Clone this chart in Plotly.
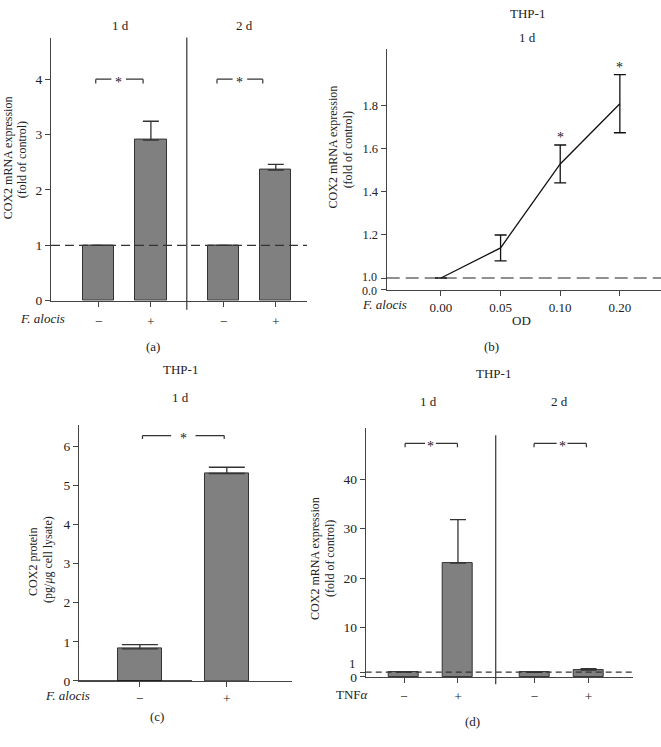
import plotly.graph_objects as go

W, H = 661, 747
FONT = "Liberation Serif"
TXT = "#222222"
AX = "#444444"
BAR = "#808080"
EDGE = "#333333"

# ---------------- data ----------------
# (a) COX2 mRNA, F. alocis, 1 d / 2 d
a_groups = ["1 d", "2 d"]
a_labels = ["−", "+", "−", "+"]
a_values = [1.0, 2.90, 1.0, 2.36]
a_err = [0.0, 0.34, 0.0, 0.10]

# (b) COX2 mRNA vs OD of F. alocis, 1 d
b_od = ["0.00", "0.05", "0.10", "0.20"]
b_values = [1.0, 1.14, 1.53, 1.81]
b_err = [0.0, 0.06, 0.088, 0.135]
b_sig = [False, False, True, True]

# (c) COX2 protein, 1 d
c_labels = ["−", "+"]
c_values = [0.82, 5.30]
c_err = [0.11, 0.16]

# (d) COX2 mRNA, TNFα, 1 d / 2 d
d_groups = ["1 d", "2 d"]
d_labels = ["−", "+", "−", "+"]
d_values = [1.0, 23.0, 0.95, 1.4]
d_err = [0.0, 8.8, 0.0, 0.3]

# ---------------- layout helpers ----------------
def px(x):
    return x / W

def py(y):
    return 1 - y / H

a_pos = [0, 1, 2.4, 3.4]
c_pos = [0, 1]
d_pos = [0, 1, 2.42, 3.42]
b_pos = [0, 1, 2, 3]

fig = go.Figure()

bar_style = dict(marker=dict(color=BAR, line=dict(color=EDGE, width=1)), showlegend=False)

fig.add_trace(go.Bar(x=a_pos, y=a_values, width=0.6, xaxis="x", yaxis="y",
                     error_y=dict(type="data", symmetric=False, array=a_err,
                                  arrayminus=[0] * 4, color=EDGE, thickness=1.3, width=8),
                     **bar_style))
fig.add_trace(go.Scatter(x=b_pos, y=b_values, mode="lines", xaxis="x2", yaxis="y2",
                         line=dict(color="#111111", width=1.3), showlegend=False,
                         error_y=dict(type="data", array=b_err, color="#111111",
                                      thickness=1.3, width=6)))
fig.add_trace(go.Bar(x=c_pos, y=c_values, width=0.5, xaxis="x3", yaxis="y3",
                     error_y=dict(type="data", symmetric=False, array=c_err,
                                  arrayminus=[0] * 2, color=EDGE, thickness=1.3, width=18),
                     **bar_style))
fig.add_trace(go.Bar(x=d_pos, y=d_values, width=0.55, xaxis="x4", yaxis="y4",
                     error_y=dict(type="data", symmetric=False, array=d_err,
                                  arrayminus=[0] * 4, color=EDGE, thickness=1.3, width=8),
                     **bar_style))

tickfont = dict(family=FONT, size=13.5, color=TXT)
common = dict(showgrid=False, zeroline=False, showline=True, linecolor=AX, linewidth=1.2,
              ticks="outside", ticklen=5, tickcolor=AX, tickwidth=1.2, tickfont=tickfont)
common_bx = dict(common, tickfont=dict(family=FONT, size=13, color=TXT))
common_by = dict(common, tickfont=dict(family=FONT, size=12.5, color=TXT))

fig.update_layout(
    width=W, height=H, margin=dict(l=0, r=0, t=0, b=0),
    paper_bgcolor="white", plot_bgcolor="white", bargap=0,
    xaxis=dict(domain=[px(51), px(307)], range=[-0.92, 4.0], anchor="y",
               tickvals=a_pos, ticktext=a_labels, ticklabelstandoff=3, **common),
    yaxis=dict(domain=[py(304), py(38)], range=[0, 4.75], anchor="x",
               tickvals=[0, 1, 2, 3, 4], **common),
    xaxis2=dict(domain=[px(386.7), px(661)], range=[-0.91, 3.69], anchor="y2",
                tickvals=b_pos, ticktext=b_od, **common_bx),
    yaxis2=dict(domain=[py(293), py(50)], range=[0.945, 2.062], anchor="x2",
                tickvals=[0.945, 1.0, 1.2, 1.4, 1.6, 1.8],
                ticktext=["", "", "1.2", "1.4", "1.6", "1.8"], **common_by),
    xaxis3=dict(domain=[px(79), px(292)], range=[-0.70, 1.75], anchor="y3",
                tickvals=c_pos, ticktext=c_labels, **common),
    yaxis3=dict(domain=[py(688.3), py(430)], range=[0, 6.53], anchor="x3",
                tickvals=[0, 1, 2, 3, 4, 5, 6], **common),
    xaxis4=dict(domain=[px(365.7), px(633.3)], range=[-0.71, 4.25], anchor="y4",
                tickvals=d_pos, ticktext=d_labels, ticklabelstandoff=2, **common),
    yaxis4=dict(domain=[py(684.3), py(432.7)], range=[0, 50.3], anchor="x4",
                tickvals=[0, 1, 10, 20, 30, 40],
                ticktext=["0", "", "10", "20", "30", "40"], **common),
)

shapes = []
ann = []

def text(x, y, s, size=12.5, xref="paper", yref="paper", **kw):
    ann.append(dict(x=x, y=y, xref=xref, yref=yref, text=s, showarrow=False,
                    font=dict(family=FONT, size=size, color=TXT),
                    xanchor=kw.pop("xanchor", "center"), yanchor=kw.pop("yanchor", "middle"), **kw))

def bracket(xr, yr, x0, x1, xs, gap, y, drop):
    line = dict(color="#333333", width=1.2)
    for a, b in [(x0, xs - gap), (xs + gap, x1)]:
        shapes.append(dict(type="line", xref=xr, yref=yr, x0=a, x1=b, y0=y, y1=y, line=line))
    for xx in (x0, x1):
        shapes.append(dict(type="line", xref=xr, yref=yr, x0=xx, x1=xx, y0=y, y1=y - drop, line=line))
    text(xs, y, "*", size=14, xref=xr, yref=yr, yshift=-3)

# ----- (a)
shapes.append(dict(type="line", xref="x domain", yref="y", x0=0, x1=1, y0=1, y1=1,
                   line=dict(color="#333333", width=1.2, dash="9px,5px")))
shapes.append(dict(type="line", xref="x", yref="y domain", x0=1.69, x1=1.69, y0=-0.034, y1=1,
                   line=dict(color="#333333", width=1.2)))
bracket("x", "y", -0.06, 0.85, 0.38, 0.14, 4.0, 0.08)
bracket("x", "y", 2.27, 3.15, 2.71, 0.14, 4.0, 0.08)
text(px(120), py(26), a_groups[0], size=13)
text(px(244), py(26), a_groups[1], size=13)
text(px(42), py(322), "<i>F. alocis</i>", size=13)
text(px(153), py(350), "(a)", size=13)
text(px(8), py(160), "COX2 mRNA expression", size=12, textangle=-90)
text(px(22), py(162), "(fold of control)", size=12, textangle=-90)

# ----- (b)
shapes.append(dict(type="line", xref="x2 domain", yref="y2", x0=0, x1=1, y0=1, y1=1,
                   line=dict(color="#222222", width=1.2, dash="13px,6px")))
for xi, (v, e, s) in enumerate(zip(b_values, b_err, b_sig)):
    if s:
        text(b_pos[xi], v + e, "*", size=14, xref="x2", yref="y2", yanchor="bottom", yshift=-2)
text(px(379), py(280), "1.0", size=12, xanchor="right")
text(px(379), py(294.5), "0.0", size=12, xanchor="right")
text(px(527), py(14), "THP-1", size=13)
text(px(527), py(38), "1 d", size=13)
text(px(384), py(308), "<i>F. alocis</i>", size=13)
text(px(521), py(324), "OD", size=13)
text(px(491), py(350), "(b)", size=13)
text(px(333), py(149), "COX2 mRNA expression", size=12, textangle=-90)
text(px(348), py(152), "(fold of control)", size=12, textangle=-90)

# ----- (c)
shapes.append(dict(type="line", xref="x3", yref="y3", x0=-0.70, x1=0.6, y0=0, y1=0,
                   line=dict(color="#111111", width=1.4)))
bracket("x3", "y3", 0.03, 0.97, 0.50, 0.14, 6.27, 0.09)
text(px(180), py(373), "THP-1", size=13)
text(px(180), py(402), "1 d", size=13)
text(px(67), py(703), "<i>F. alocis</i>", size=13)
text(px(157), py(724), "(c)", size=13)
text(px(33), py(568), "COX2 protein", size=12, textangle=-90)
text(px(48), py(566), "(pg/<i>μ</i>g cell lysate)", size=12, textangle=-90)

# ----- (d)
shapes.append(dict(type="line", xref="x4 domain", yref="y4", x0=0, x1=1, y0=1, y1=1,
                   line=dict(color="#333333", width=1.2, dash="6px,4px")))
shapes.append(dict(type="line", xref="x4", yref="y4 domain", x0=1.70, x1=1.70, y0=-0.029, y1=0.971,
                   line=dict(color="#333333", width=1.2)))
bracket("x4", "y4", 0.02, 0.99, 0.49, 0.1, 47.2, 0.8)
bracket("x4", "y4", 2.41, 3.38, 2.93, 0.1, 47.2, 0.8)
text(px(493), py(378), "THP-1", size=13)
text(px(428), py(406), d_groups[0], size=13)
text(px(559), py(406), d_groups[1], size=13)
text(px(358), py(671), "1", size=13, xanchor="right")
text(px(352), py(702), "TNF<i>α</i>", size=13)
text(px(472), py(729), "(d)", size=13)
text(px(315), py(565), "COX2 mRNA expression", size=12, textangle=-90)
text(px(330), py(565), "(fold of control)", size=12, textangle=-90)

fig.update_layout(shapes=shapes, annotations=ann)
fig.write_html("out.html", config={"displayModeBar": False},
               post_script="document.body.style.margin='0';")
